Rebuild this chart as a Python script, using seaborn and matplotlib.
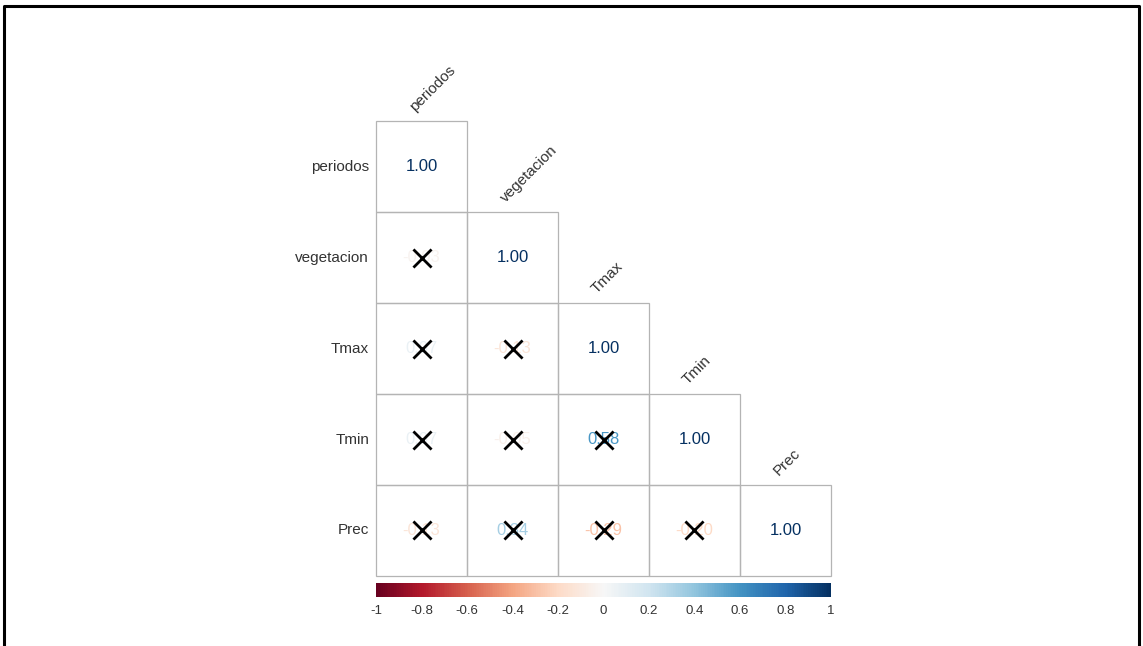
import matplotlib
matplotlib.use('Agg')
import matplotlib.pyplot as plt
import seaborn as sns
import numpy as np
import pandas as pd
from matplotlib.colors import ListedColormap, Normalize
from matplotlib.cm import ScalarMappable
from matplotlib.lines import Line2D
from matplotlib.patches import Rectangle

# variables of the correlation matrix
variables = ['periodos', 'vegetacion', 'Tmax', 'Tmin', 'Prec']

# lower triangle, row by row
r_vegetacion = [-0.03]
r_tmax = [0.07, -0.13]
r_tmin = [0.07, -0.05, 0.58]
r_prec = [-0.13, 0.34, -0.29, -0.20]

# non significant pairs (crossed out)
crossed = [(1, 0), (2, 0), (2, 1), (3, 0), (3, 1), (3, 2),
           (4, 0), (4, 1), (4, 2), (4, 3)]

cbar_ticks = [-1, -0.8, -0.6, -0.4, -0.2, 0, 0.2, 0.4, 0.6, 0.8, 1]
cbar_labels = ['-1', '-0.8', '-0.6', '-0.4', '-0.2', '0', '0.2', '0.4', '0.6', '0.8', '1']


def build_matrix():
    n = len(variables)
    m = np.eye(n)
    for i, row in enumerate([r_vegetacion, r_tmax, r_tmin, r_prec], start=1):
        for j, v in enumerate(row):
            m[i, j] = v
            m[j, i] = v
    return pd.DataFrame(m, index=variables, columns=variables)


df = build_matrix()

sns.set_style('white')
plt.rcParams['font.family'] = ['Liberation Sans', 'DejaVu Sans']

cmap = plt.get_cmap('RdBu')
norm = Normalize(vmin=-1, vmax=1)

fig = plt.figure(figsize=(11.43, 6.46), dpi=100)
ax = fig.add_axes([0.329, 0.1084, 0.398, 0.704])

mask = np.triu(np.ones(df.shape, dtype=bool), k=1)
sns.heatmap(df, mask=mask, cmap=ListedColormap(['white']), cbar=False,
            annot=True, fmt='.2f', linewidths=0,
            annot_kws={'size': 12}, ax=ax)
for sp in ax.spines.values():
    sp.set_visible(False)

# colour the numbers like corrplot does
for t in ax.texts:
    t.set_color(cmap(norm(float(t.get_text()))))

# grey borders only around the lower-triangle cells
n = len(variables)
for i in range(n):
    for j in range(i + 1):
        ax.add_patch(Rectangle((j, i), 1, 1, fill=False, edgecolor='#b4b4b4',
                               lw=0.9, zorder=3, clip_on=False))

ax.tick_params(length=0, labelbottom=False, pad=5)
ax.set_yticklabels(variables, rotation=0, fontsize=11, color='#333333')
ax.set_xlabel('')
ax.set_ylabel('')

# column labels above the diagonal
for j, name in enumerate(variables):
    ax.text(j + 0.45, j - 0.08, name, rotation=45, ha='left', va='bottom',
            rotation_mode='anchor', fontsize=11, color='#333333')

# crosses on non significant cells
xs = [j + 0.5 for i, j in crossed]
ys = [i + 0.5 for i, j in crossed]
ax.scatter(xs, ys, marker='x', s=170, c='black', linewidths=2, zorder=5, clip_on=False)

# colour bar
cax = fig.add_axes([0.329, 0.0759, 0.398, 0.0217])
cb = fig.colorbar(ScalarMappable(norm=norm, cmap=cmap), cax=cax,
                  orientation='horizontal', ticks=cbar_ticks)
cb.outline.set_visible(False)
cb.ax.set_xticklabels(cbar_labels)
cax.tick_params(length=0, labelsize=9.5, pad=6, labelcolor='#333333')

# outer frame
fx0, fx1 = 4 / 1143, 1139 / 1143
fy1 = 1 - 6 / 646
fig.add_artist(Line2D([fx0, fx0, fx1, fx1], [0, fy1, fy1, 0], color='black',
                      lw=2.2, transform=fig.transFigure))

fig.savefig('out.png', dpi=100)
